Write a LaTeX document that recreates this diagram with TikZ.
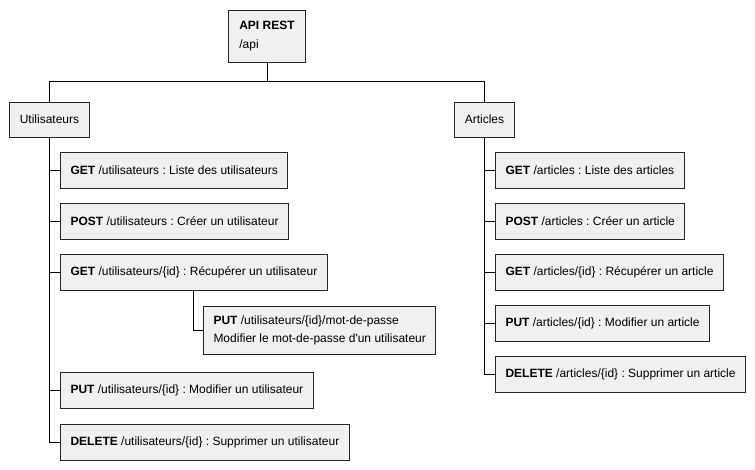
\documentclass[tikz,border=0pt]{standalone}
\usepackage{fontspec}
\setmainfont{Liberation Sans}
\frenchspacing
\begin{document}
\begin{tikzpicture}[x=1pt,y=-1pt,
  box/.style={draw=black!85,line width=1pt,fill=black!6,inner xsep=10pt,inner ysep=0pt,
    minimum height=36pt,font=\fontsize{12}{18}\selectfont\frenchspacing,anchor=west},
  conn/.style={draw=black,line width=1pt}]
\useasboundingbox (0,0) rectangle (755,469);
\node[box,minimum width=77pt,minimum height=52pt,align=left,anchor=center,
  font=\fontsize{12}{19}\selectfont] (root) at (267,36)
  {\textbf{API REST}\\/api};
\node[box,anchor=center,minimum width=79pt,minimum height=35pt] (users) at (49.5,119.5) {Utilisateurs};
\node[box,anchor=center,minimum width=59pt,minimum height=35pt] (arts) at (484.5,119.5) {Articles};
\coordinate (j) at (267,81);
\draw[conn] (root.south) -- (j);
\draw[conn] (users.north) -- (users.north |- j) -- (arts.north |- j) -- (arts.north);

\node[box] (u1) at (60,170) {\textbf{GET} /utilisateurs : Liste des utilisateurs};
\node[box] (u2) at (60,221) {\textbf{POST} /utilisateurs : Créer un utilisateur};
\node[box] (u3) at (60,272) {\textbf{GET} /utilisateurs/\{id\} : Récupérer un utilisateur};
\node[box,align=left,minimum height=48pt] (u3a) at (203,330)
  {\textbf{PUT} /utilisateurs/\{id\}/mot-de-passe\\Modifier le mot-de-passe d\textquotesingle un utilisateur};
\node[box] (u4) at (60,390.5) {\textbf{PUT} /utilisateurs/\{id\} : Modifier un utilisateur};
\node[box] (u5) at (60,442.5) {\textbf{DELETE} /utilisateurs/\{id\} : Supprimer un utilisateur};

\foreach \n in {u1,u2,u3,u4,u5} \draw[conn] (users.south) |- (\n.west);
\draw[conn] ([xshift=-10pt]u3a.west |- u3.south) |- (u3a.west);

\node[box] (a1) at (495,170) {\textbf{GET} /articles : Liste des articles};
\node[box] (a2) at (495,221) {\textbf{POST} /articles : Créer un article};
\node[box] (a3) at (495,272) {\textbf{GET} /articles/\{id\} : Récupérer un article};
\node[box] (a4) at (495,323) {\textbf{PUT} /articles/\{id\} : Modifier un article};
\node[box] (a5) at (495,374) {\textbf{DELETE} /articles/\{id\} : Supprimer un article};
\foreach \n in {a1,a2,a3,a4,a5} \draw[conn] (arts.south) |- (\n.west);
\end{tikzpicture}
\end{document}
